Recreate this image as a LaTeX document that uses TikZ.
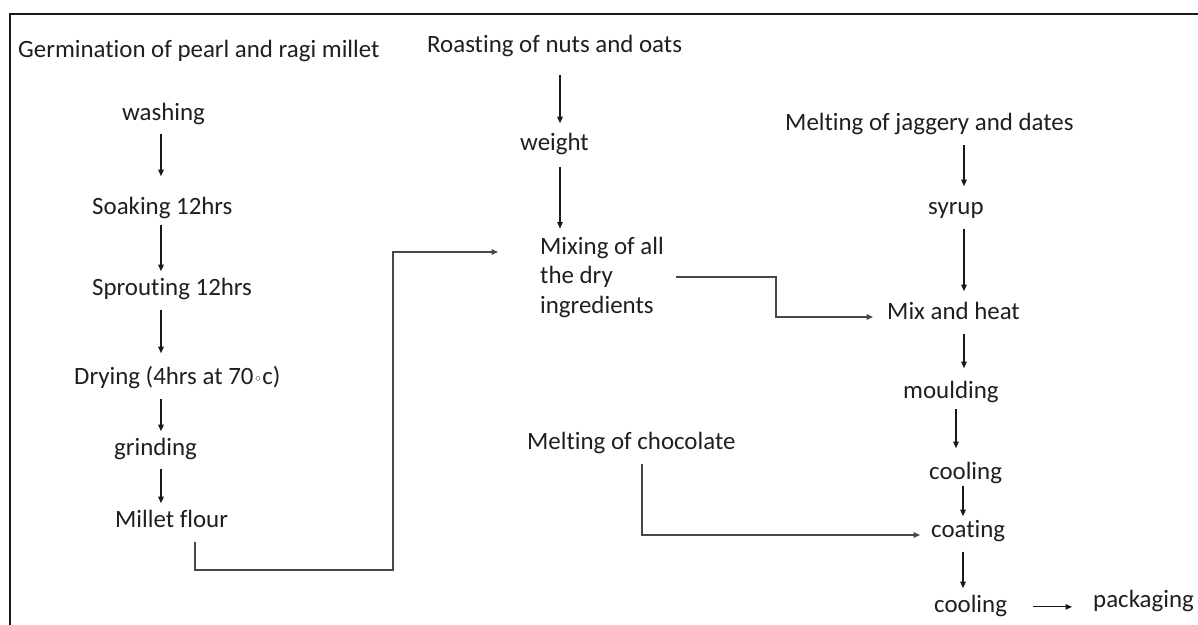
\documentclass[tikz,border=0pt]{standalone}
\usepackage{fontspec}
\setmainfont{Carlito}[Ligatures={NoCommon}]
\newfontfamily\dejavu{DejaVu Sans}
\usetikzlibrary{arrows.meta}
\begin{document}
\begin{tikzpicture}[x=1pt,y=-1pt,
  lbl/.style={inner sep=0pt, anchor=mid west, text=black!88,
    font=\fontsize{24.9}{29.5}\selectfont, text height=17pt, text depth=6pt},
  arr/.style={draw=black!90, line width=1.1pt, -{Triangle[length=6.5pt,width=5.5pt]}},
  elb/.style={draw=black!72, line width=1.5pt, -{Triangle[length=6.5pt,width=5.5pt]}},
  gap/.style 2 args={shorten <=#1pt, shorten >=#2pt}]
\useasboundingbox (0,0) rectangle (1198,624);
\fill[white] (0,0) rectangle (1198,624);
% frame (right and bottom edges lie outside the picture)
\draw[line width=2.4pt, black!90] (10,650) -- (10,14) -- (1230,14);

% left column
\node[lbl] (germ)   at (18,55)  {Germination of pearl and ragi millet};
\node[lbl] (wash)   at (122,118) {washing};
\node[lbl] (soak)   at (92,212)  {Soaking 12hrs};
\node[lbl] (sprout) at (92,293)  {Sprouting 12hrs};
\node[lbl] (dry)    at (74,382)  {Drying (4hrs at 70{\dejavu\fontsize{15}{18}\selectfont ◦}c)};
\node[lbl] (grind)  at (114,453) {grinding};
\node[lbl] (flour)  at (115,525) {Millet flour};

% middle column
\node[lbl] (roast)  at (427,50)  {Roasting of nuts and oats};
\node[lbl] (weight) at (520,148) {weight};
\node[inner sep=0pt, anchor=west, align=left, text=black!88,
      font=\fontsize{24.9}{29.5}\selectfont] (mixing) at (540,277)
      {Mixing of all\\the dry\\ingredients};
\node[lbl] (choc)   at (527,447) {Melting of chocolate};

% right column
\node[lbl] (jag)     at (785,128) {Melting of jaggery and dates};
\node[lbl] (syrup)   at (928,212) {syrup};
\node[lbl] (mixheat) at (887,317) {Mix and heat};
\node[lbl] (mould)   at (903,396) {moulding};
\node[lbl] (cool1)   at (929,477) {cooling};
\node[lbl] (coat)    at (931,535) {coating};
\node[lbl] (cool2)   at (934,610) {cooling};
\node[lbl] (pack)    at (1093,605) {packaging};

% x positions of the vertical arrows
\coordinate (xa) at (161,0);
\coordinate (xb) at (560,0);
\coordinate (xc) at (964,0);
\coordinate (xd) at (956,0);
\coordinate (xe) at (963,0);

\draw[arr, gap={7}{21}] (wash.south -| xa) -- (soak.north -| xa);
\draw[arr, gap={4}{7}]  (soak.south -| xa) -- (sprout.north -| xa);
\draw[arr, gap={8}{14}] (sprout.south -| xa) -- (dry.north -| xa);
\draw[arr, gap={8}{7}]  (dry.south -| xa) -- (grind.north -| xa);
\draw[arr, gap={7}{7}]  (grind.south -| xa) -- (flour.north -| xa);

\draw[arr, gap={16}{10}] (roast.south -| xb) -- (weight.north -| xb);
\draw[arr, gap={10}{8}]  (weight.south -| xb) -- (mixing.north -| xb);

\draw[arr, gap={8}{11}] (jag.south -| xc) -- (syrup.north -| xc);
\draw[arr, gap={8}{11}] (syrup.south -| xc) -- (mixheat.north -| xc);
\draw[arr, gap={8}{13}] (mixheat.south -| xc) -- (mould.north -| xc);
\draw[arr, gap={4}{14}] (mould.south -| xd) -- (cool1.north -| xd);
\draw[arr, gap={0}{4}]  (cool1.south -| xe) -- (coat.north -| xe);
\draw[arr, gap={8}{7}]  (coat.south -| xe) -- (cool2.north -| xe);
\draw[arr, gap={26}{21}] (cool2.east) -- (cool2.east -| pack.west);

% elbow connectors
\coordinate (b1) at (195,570);
\coordinate (b2) at (393,252);
\draw[elb, gap={8}{42}] (flour.south -| b1) -- (b1) -| (b2) -- (b2 -| mixing.west);
\coordinate (b3) at (776,317);
\draw[elb, gap={12}{14}] (mixing.east) -| (b3) -- (b3 -| mixheat.west);
\coordinate (b4) at (642,535);
\draw[elb, gap={8}{11}] (choc.south -| b4) -- (b4) -- (b4 -| coat.west);
\end{tikzpicture}
\end{document}
